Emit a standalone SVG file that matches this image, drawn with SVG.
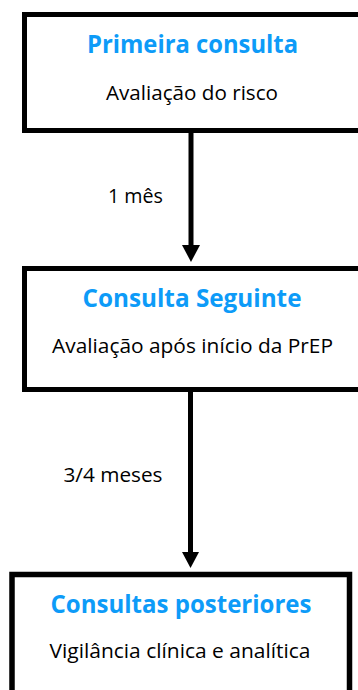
<svg xmlns="http://www.w3.org/2000/svg" width="358" height="690" viewBox="0 0 358 690">
  <style>
    .box { fill: #ffffff; stroke: #000000; stroke-width: 5; }
    .title { font-family: "Open Sans", "Noto Sans", "DejaVu Sans", sans-serif; font-weight: bold; font-size: 25px; fill: #0D9BF8; text-anchor: middle; }
    .sub { font-family: "Open Sans", "Noto Sans", "DejaVu Sans", sans-serif; font-size: 20px; fill: #000000; text-anchor: middle; }
    .lbl { font-family: "Open Sans", "Noto Sans", "DejaVu Sans", sans-serif; font-size: 20px; fill: #000000; text-anchor: middle; }
    .shaft { stroke: #000000; stroke-width: 5; fill: none; }
    .head { fill: #000000; }
  </style>
  <rect width="358" height="690" fill="#ffffff"/>
  <g id="connectors">
    <g id="edge1">
      <line class="shaft" x1="191" y1="133" x2="191" y2="248"/>
      <polygon class="head" points="182,245 200,245 191,262"/>
      <text class="lbl" x="135.5" y="203" textLength="55" lengthAdjust="spacingAndGlyphs">1 mês</text>
    </g>
    <g id="edge2">
      <line class="shaft" x1="190.5" y1="392" x2="190.5" y2="555"/>
      <polygon class="head" points="182,552 199,552 190.5,568"/>
      <text class="lbl" x="113" y="481.5" textLength="99" lengthAdjust="spacingAndGlyphs">3/4 meses</text>
    </g>
  </g>
  <g id="node1">
    <rect class="box" x="24.5" y="14.5" width="345" height="116"/>
    <text class="title" x="192.5" y="53" textLength="211" lengthAdjust="spacingAndGlyphs">Primeira consulta</text>
    <text class="sub" x="192" y="100" textLength="172" lengthAdjust="spacingAndGlyphs">Avaliação do risco</text>
  </g>
  <g id="node2">
    <rect class="box" x="24.5" y="268.5" width="345" height="121"/>
    <text class="title" x="192" y="306.5" textLength="219" lengthAdjust="spacingAndGlyphs">Consulta Seguinte</text>
    <text class="sub" x="192.5" y="353" textLength="281" lengthAdjust="spacingAndGlyphs">Avaliação após início da PrEP</text>
  </g>
  <g id="node3">
    <rect class="box" x="12" y="574.5" width="337.5" height="130" style="stroke-width:5.5"/>
    <text class="title" x="181" y="613" textLength="261" lengthAdjust="spacingAndGlyphs">Consultas posteriores</text>
    <text class="sub" x="180" y="658" textLength="261" lengthAdjust="spacingAndGlyphs">Vigilância clínica e analítica</text>
  </g>
</svg>
